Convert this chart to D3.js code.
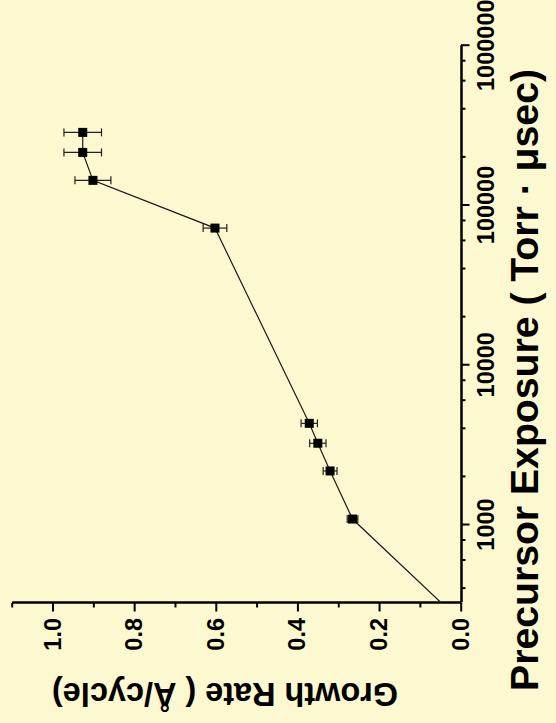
<!DOCTYPE html>
<html>
<head>
<meta charset="utf-8">
<script src="https://cdn.jsdelivr.net/npm/d3@7"></script>
<style>
  html, body { margin: 0; padding: 0; background: #fcf8cf; }
  svg { display: block; }
</style>
</head>
<body>
<script>
// Growth rate versus precursor exposure (log scale), with error bars on the rate.
const exposure   = [250, 1090, 2180, 3250, 4330, 72200, 143600, 214800, 286700];
const growthRate = [0, 0.265, 0.320, 0.350, 0.371, 0.602, 0.901, 0.926, 0.926];
const rateError  = [0, 0.013, 0.017, 0.020, 0.020, 0.029, 0.044, 0.046, 0.046];
const showMarker = [false, true, true, true, true, true, true, true, true];

const exposureTicks      = [1000, 10000, 100000, 1000000];
const exposureTickLabels = ["1000", "10000", "100000", "1000000"];
const exposureMinorTicks = [400, 600, 800, 2000, 4000, 6000, 8000, 20000, 40000, 60000, 80000,
                            200000, 400000, 600000, 800000];
const rateTicks      = [0.0, 0.2, 0.4, 0.6, 0.8, 1.0];
const rateTickLabels = ["0.0", "0.2", "0.4", "0.6", "0.8", "1.0"];
const rateMinorTicks = [0.1, 0.3, 0.5, 0.7, 0.9, 1.1];

const xTitle = "Precursor Exposure ( Torr · μsec)";
const yTitle = "Growth Rate ( Å/cycle)";

const W = 556, H = 723;
const FONT = "'Liberation Sans', Arial, Helvetica, sans-serif";

const svg = d3.select("body").append("svg")
  .attr("width", W).attr("height", H);

svg.append("rect").attr("width", W).attr("height", H).attr("fill", "#fcf8cf");

// The plot is drawn in a frame turned a quarter turn counter-clockwise:
// exposure runs bottom-to-top, growth rate runs right-to-left.
const plot = svg.append("g").attr("transform", `translate(0,${H}) rotate(-90)`);

const x = d3.scaleLog().domain([326.5, 1e6]).range([120.3, 677.3]);
const y = d3.scaleLinear().domain([0, 1.1]).range([460.7, 11.7]);

const axisY0 = 461;   // exposure axis line (inner frame)
const axisX0 = 120;   // rate axis line (inner frame)

// clip so the line stops at the axes
plot.append("clipPath").attr("id", "plotClip")
  .append("rect")
  .attr("x", axisX0).attr("y", 0)
  .attr("width", x.range()[1] - axisX0 + 2)
  .attr("height", axisY0);

function styleAxis(g) {
  g.selectAll("path.domain").attr("stroke", "#000").attr("stroke-width", 2);
  g.selectAll(".tick line").attr("stroke", "#000").attr("stroke-width", 2);
  g.selectAll(".tick text")
    .attr("fill", "#000")
    .style("font-family", FONT)
    .style("font-weight", "bold")
    .style("font-size", "23.5px");
}

// exposure axis: minor ticks, then major ticks with labels
plot.append("g")
  .attr("transform", `translate(0,${axisY0})`)
  .call(d3.axisBottom(x).tickValues(exposureMinorTicks).tickSize(4.5).tickSizeOuter(0).tickFormat(""))
  .call(styleAxis);

plot.append("g")
  .attr("transform", `translate(0,${axisY0})`)
  .call(d3.axisBottom(x).tickValues(exposureTicks).tickSize(8.5).tickSizeOuter(0)
        .tickPadding(7.5)
        .tickFormat((d, i) => exposureTickLabels[i]))
  .call(styleAxis);

// rate axis
plot.append("g")
  .attr("transform", `translate(${axisX0},0)`)
  .call(d3.axisLeft(y).tickValues(rateMinorTicks).tickSize(4.5).tickSizeOuter(0).tickFormat(""))
  .call(styleAxis);

plot.append("g")
  .attr("transform", `translate(${axisX0},0)`)
  .call(d3.axisLeft(y).tickValues(rateTicks).tickSize(8.5).tickSizeOuter(0)
        .tickPadding(6.5)
        .tickFormat((d, i) => rateTickLabels[i]))
  .call(styleAxis);

// data
const data = exposure.map((e, i) => ({
  e, r: growthRate[i], err: rateError[i], marker: showMarker[i]
}));

const line = d3.line().x(d => x(d.e)).y(d => y(d.r));

plot.append("path")
  .datum(data)
  .attr("clip-path", "url(#plotClip)")
  .attr("fill", "none")
  .attr("stroke", "#1a1a1a")
  .attr("stroke-width", 1.2)
  .attr("d", line);

const pts = data.filter(d => d.marker);
const cap = 4;

const eb = plot.append("g").attr("stroke", "#222").attr("stroke-width", 1.2).attr("fill", "none");
pts.forEach(d => {
  const cx = x(d.e), y1 = y(d.r - d.err), y2 = y(d.r + d.err);
  eb.append("line").attr("x1", cx).attr("x2", cx).attr("y1", y1).attr("y2", y2);
  eb.append("line").attr("x1", cx - cap).attr("x2", cx + cap).attr("y1", y1).attr("y2", y1);
  eb.append("line").attr("x1", cx - cap).attr("x2", cx + cap).attr("y1", y2).attr("y2", y2);
});

const ms = 9;
plot.append("g").selectAll("rect")
  .data(pts)
  .join("rect")
  .attr("x", d => x(d.e) - ms / 2)
  .attr("y", d => y(d.r) - ms / 2)
  .attr("width", ms)
  .attr("height", ms)
  .attr("fill", "#000");

// axis titles, placed in page coordinates
svg.append("text")
  .attr("transform", "translate(538,380) rotate(-90)")
  .attr("text-anchor", "middle")
  .attr("textLength", 622)
  .attr("lengthAdjust", "spacingAndGlyphs")
  .style("font-family", FONT)
  .style("font-weight", "bold")
  .style("font-size", "39px")
  .text(xTitle);

svg.append("text")
  .attr("transform", "translate(225,683) rotate(180)")
  .attr("text-anchor", "middle")
  .attr("textLength", 346)
  .attr("lengthAdjust", "spacingAndGlyphs")
  .style("font-family", FONT)
  .style("font-weight", "bold")
  .style("font-size", "33px")
  .text(yTitle);
</script>
</body>
</html>
